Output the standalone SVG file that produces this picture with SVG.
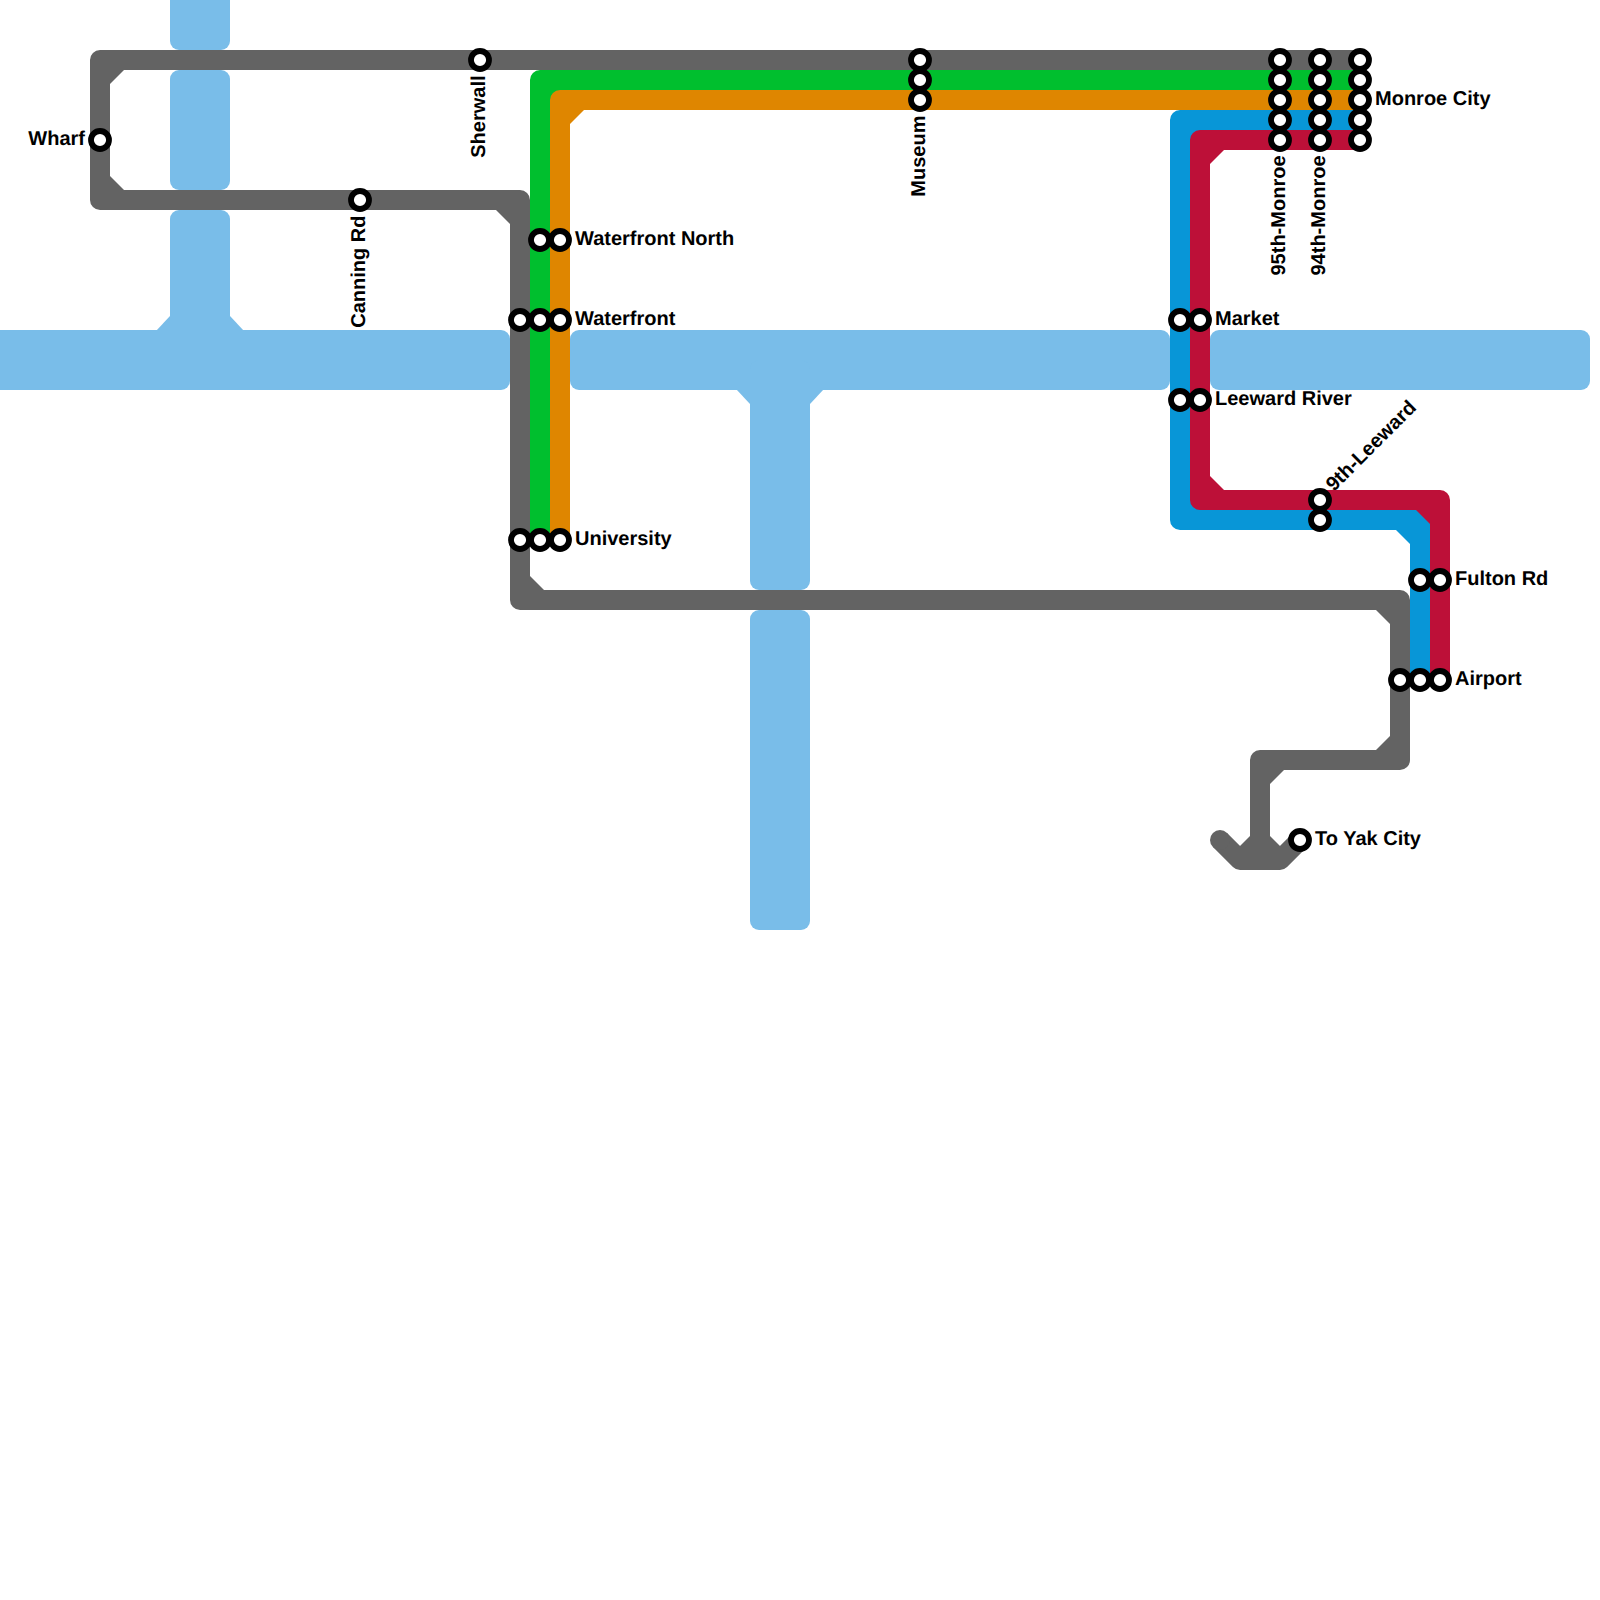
<svg xmlns="http://www.w3.org/2000/svg" width="1600" height="1600" viewBox="0 0 1600 1600">
<style>
.river{fill:#79bde9}
.l{fill:none;stroke-width:20;stroke-linejoin:round;stroke-linecap:butt}
.gray{stroke:#636363}.gf{fill:#636363}
.green{stroke:#00bf2e}.nf{fill:#00bf2e}
.orange{stroke:#df8600}.of{fill:#df8600}
.blue{stroke:#0896d7}.bf{fill:#0896d7}
.red{stroke:#bd1038}.rf{fill:#bd1038}
.s{fill:#fff;stroke:#000;stroke-width:5.8}
text{font-family:"Liberation Sans",Arial,sans-serif;font-weight:bold;font-size:20px;fill:#000;text-rendering:geometricPrecision}
</style>
<rect width="1600" height="1600" fill="#fff"/>
<g id="river">
<rect class="river" x="170" y="-20" width="60" height="70" rx="9"/>
<rect class="river" x="170" y="70" width="60" height="120" rx="9"/>
<rect class="river" x="170" y="210" width="60" height="150" rx="9"/>
<polygon class="river" points="156,331 170,316 230,316 244,331"/>
<rect class="river" x="-20" y="330" width="530" height="60" rx="9"/>
<rect class="river" x="570" y="330" width="600" height="60" rx="9"/>
<rect class="river" x="1210" y="330" width="380" height="60" rx="9"/>
<polygon class="river" points="736,389 750,404 810,404 824,389"/>
<rect class="river" x="750" y="360" width="60" height="230" rx="9"/>
<rect class="river" x="750" y="610" width="60" height="320" rx="9"/>
</g>
<g id="connectors">
<g id="line-gray">
<path class="l gray" d="M1360 60H100V200H520V600H1400V760H1260V860"/>
<path class="l gray" d="M1220 840L1240 860H1280L1300 840"/>
<circle class="gf" cx="1220" cy="840" r="10"/>
<polygon class="gf" points="110,70 110,84 124,70"/>
<polygon class="gf" points="110,190 110,176 124,190"/>
<polygon class="gf" points="510,210 510,224 496,210"/>
<polygon class="gf" points="530,590 530,576 544,590"/>
<polygon class="gf" points="1390,610 1376,610 1390,624"/>
<polygon class="gf" points="1390,750 1376,750 1390,736"/>
<polygon class="gf" points="1270,770 1284,770 1270,784"/>
<polygon class="gf" points="1240,846 1250,836 1270,836 1280,846 1280,862 1240,862"/>
</g>
<g id="line-green">
<path class="l green" d="M540 540V80H1360"/>
<polygon class="nf" points="550,90 550,104 564,90"/>
</g>
<g id="line-orange">
<path class="l orange" d="M560 540V100H1360"/>
<polygon class="of" points="570,110 570,124 584,110"/>
</g>
<g id="line-blue">
<path class="l blue" d="M1360 120H1180V520H1420V680"/>
<polygon class="bf" points="1190,130 1190,144 1204,130"/>
<polygon class="bf" points="1190,510 1190,496 1204,510"/>
<polygon class="bf" points="1410,530 1396,530 1410,544"/>
</g>
<g id="line-red">
<path class="l red" d="M1360 140H1200V500H1440V680"/>
<polygon class="rf" points="1210,150 1224,150 1210,164"/>
<polygon class="rf" points="1210,490 1224,490 1210,476"/>
<polygon class="rf" points="1430,510 1416,510 1430,524"/>
</g>
</g>
<g id="node-wharf"><circle class="s" cx="100" cy="140" r="9"/><text x="85" y="145" text-anchor="end">Wharf</text></g>
<g id="node-sherwall"><circle class="s" cx="480" cy="60" r="9"/><text transform="translate(485 75.5) rotate(-90)" text-anchor="end">Sherwall</text></g>
<g id="node-canning"><circle class="s" cx="360" cy="200" r="9"/><text transform="translate(365 215.5) rotate(-90)" text-anchor="end">Canning Rd</text></g>
<g id="node-waterfront-north"><circle class="s" cx="540" cy="240" r="9"/><circle class="s" cx="560" cy="240" r="9"/><text x="575" y="245">Waterfront North</text></g>
<g id="node-waterfront"><circle class="s" cx="520" cy="320" r="9"/><circle class="s" cx="540" cy="320" r="9"/><circle class="s" cx="560" cy="320" r="9"/><text x="575" y="325">Waterfront</text></g>
<g id="node-university"><circle class="s" cx="520" cy="540" r="9"/><circle class="s" cx="540" cy="540" r="9"/><circle class="s" cx="560" cy="540" r="9"/><text x="575" y="545">University</text></g>
<g id="node-museum"><circle class="s" cx="920" cy="60" r="9"/><circle class="s" cx="920" cy="80" r="9"/><circle class="s" cx="920" cy="100" r="9"/><text transform="translate(925 115.5) rotate(-90)" text-anchor="end">Museum</text></g>
<g id="node-95th"><circle class="s" cx="1280" cy="60" r="9"/><circle class="s" cx="1280" cy="80" r="9"/><circle class="s" cx="1280" cy="100" r="9"/><circle class="s" cx="1280" cy="120" r="9"/><circle class="s" cx="1280" cy="140" r="9"/><text transform="translate(1285 155.5) rotate(-90)" text-anchor="end">95th-Monroe</text></g>
<g id="node-94th"><circle class="s" cx="1320" cy="60" r="9"/><circle class="s" cx="1320" cy="80" r="9"/><circle class="s" cx="1320" cy="100" r="9"/><circle class="s" cx="1320" cy="120" r="9"/><circle class="s" cx="1320" cy="140" r="9"/><text transform="translate(1325 155.5) rotate(-90)" text-anchor="end">94th-Monroe</text></g>
<g id="node-monroe-city"><circle class="s" cx="1360" cy="60" r="9"/><circle class="s" cx="1360" cy="80" r="9"/><circle class="s" cx="1360" cy="100" r="9"/><circle class="s" cx="1360" cy="120" r="9"/><circle class="s" cx="1360" cy="140" r="9"/><text x="1375" y="105">Monroe City</text></g>
<g id="node-market"><circle class="s" cx="1180" cy="320" r="9"/><circle class="s" cx="1200" cy="320" r="9"/><text x="1215" y="325">Market</text></g>
<g id="node-leeward-river"><circle class="s" cx="1180" cy="400" r="9"/><circle class="s" cx="1200" cy="400" r="9"/><text x="1215" y="405">Leeward River</text></g>
<g id="node-9th-leeward"><circle class="s" cx="1320" cy="500" r="9"/><circle class="s" cx="1320" cy="520" r="9"/><text transform="translate(1334 492) rotate(-45)">9th-Leeward</text></g>
<g id="node-fulton"><circle class="s" cx="1420" cy="580" r="9"/><circle class="s" cx="1440" cy="580" r="9"/><text x="1455" y="585">Fulton Rd</text></g>
<g id="node-airport"><circle class="s" cx="1400" cy="680" r="9"/><circle class="s" cx="1420" cy="680" r="9"/><circle class="s" cx="1440" cy="680" r="9"/><text x="1455" y="685">Airport</text></g>
<g id="node-yak"><circle class="s" cx="1300" cy="840" r="9"/><text x="1315" y="845">To Yak City</text></g>
</svg>
